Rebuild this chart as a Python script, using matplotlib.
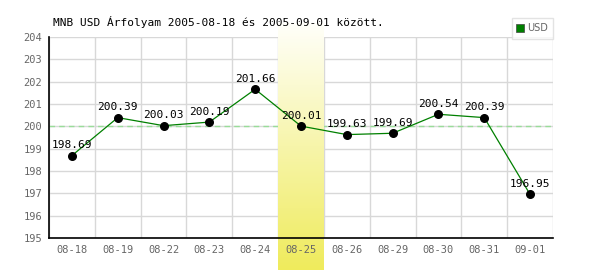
import matplotlib.pyplot as plt
import numpy as np
from matplotlib.colors import LinearSegmentedColormap
from matplotlib.lines import Line2D

dates = ["08-18", "08-19", "08-22", "08-23", "08-24", "08-25",
         "08-26", "08-29", "08-30", "08-31", "09-01"]
usd = [198.69, 200.39, 200.03, 200.19, 201.66, 200.01,
       199.63, 199.69, 200.54, 200.39, 196.95]
highlight = "08-25"
reference = 200
title = "MNB USD Árfolyam 2005-08-18 és 2005-09-01 között."

mono = "DejaVu Sans Mono"
gray = "#666666"

fig = plt.figure(figsize=(6, 2.7), dpi=100)
ax = fig.add_axes([49 / 600, 1 - 238 / 270, 504 / 600, 201 / 270])

x = np.arange(len(dates))

# grid
for k in range(len(dates) + 1):
    ax.axvline(k - 0.5, color="#d8d8d8", lw=1, zorder=1)
for v in range(195, 205):
    ax.axhline(v, color="#d8d8d8", lw=1, zorder=1)
ax.axhline(reference, color="#99dd99", lw=1, ls=(0, (4, 3)), zorder=2)

# highlighted day: vertical gradient, running down past the axis
hi = dates.index(highlight)
cmap = LinearSegmentedColormap.from_list("hl", ["#fffffa", "#f7f5aa", "#efeb5c"])
grad = np.linspace(0, 1, 256).reshape(-1, 1)
px = 9 / 201  # data units per pixel
ax.imshow(grad, cmap=cmap, aspect="auto", origin="upper",
          extent=(hi - 0.5, hi + 0.5, 195 - 32 * px, 204 + 14 * px),
          clip_on=False, zorder=3)
ax.set_xlim(-0.5, len(dates) - 0.5)
ax.set_ylim(195, 204)

ax.plot(x, usd, color="#008000", lw=0.9, zorder=4)
ax.scatter(x, usd, s=30, color="black", zorder=5)
for xi, v in zip(x, usd):
    ax.annotate(f"{v:.2f}", (xi, v), xytext=(0, 4), textcoords="offset points",
                ha="center", va="bottom", fontsize=8, family=mono, color="black",
                zorder=6)

for s in ["top", "right"]:
    ax.spines[s].set_visible(False)
for s in ["left", "bottom"]:
    ax.spines[s].set_color("black")
    ax.spines[s].set_linewidth(1.2)
    ax.spines[s].set_zorder(7)

ax.set_xticks(x)
ax.set_xticklabels(dates)
ax.set_yticks(range(195, 205))
ax.tick_params(length=0, labelsize=7.5, labelcolor=gray, pad=5)
ax.xaxis.set_zorder(8)
ax.yaxis.set_zorder(8)
for lab in ax.get_xticklabels() + ax.get_yticklabels():
    lab.set_family(mono)

fig.text(53 / 600, 1 - 22 / 270, title, family=mono, fontsize=8,
         color="black", va="center", ha="left")

handle = Line2D([], [], marker="s", color="#008000", ls="none", markersize=5.5,
                markeredgecolor="#444444", markeredgewidth=0.5)
leg = fig.legend([handle], ["USD"], loc="upper right",
                 bbox_to_anchor=(553 / 600, 1 - 18 / 270), fontsize=7,
                 frameon=True, fancybox=False, edgecolor="#dddddd",
                 handlelength=0.7, handletextpad=0.3, borderpad=0.55,
                 borderaxespad=0)
leg.get_frame().set_linewidth(1)
for t in leg.get_texts():
    t.set_color(gray)

fig.savefig("out.png", dpi=100)
